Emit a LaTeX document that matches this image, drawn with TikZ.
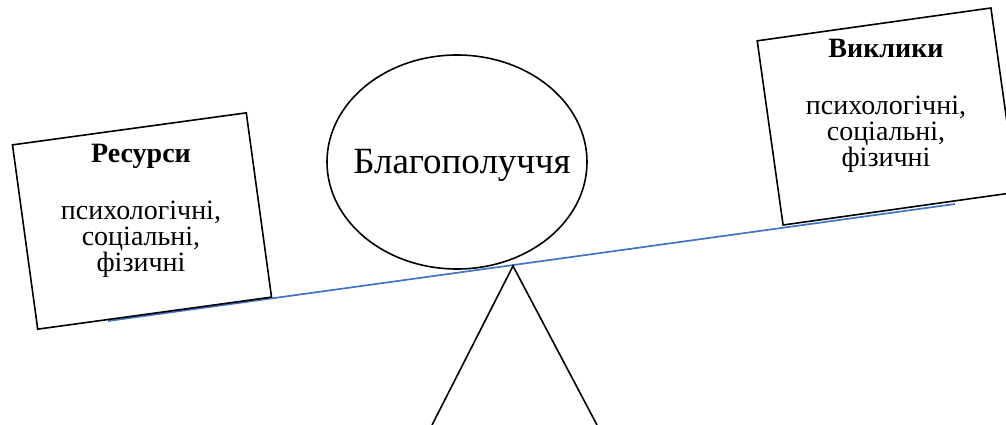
\documentclass[tikz,border=0pt]{standalone}
\usepackage{fontspec}
\setmainfont{Liberation Serif}
\usepackage{xcolor}
\usetikzlibrary{shapes.geometric}
\definecolor{beamblue}{HTML}{4472C4}
\begin{document}
\begin{tikzpicture}[x=1pt, y=-1pt, every node/.style={font=\fontsize{28}{26}\selectfont}, tiltbox/.style={draw, line width=1.6pt, fill=white, minimum width=236pt, minimum height=186pt, inner sep=0pt}, boxtext/.style={align=center, inner sep=0pt, anchor=north}, beam/.style={draw=beamblue, line width=1.7pt}, stand/.style={draw, line width=1.6pt}]
\clip (0,0) rectangle (1006,425);
% beam and stand
\coordinate (beamL) at (108,321);
\coordinate (beamR) at (955,204);
\coordinate (apex) at (513,266);
\coordinate (footL) at (432,425);
\coordinate (footR) at (597,425);
\draw[beam] (beamL) -- (beamR);
\draw[stand] (footL) -- (apex) -- (footR);
% boxes
\node[tiltbox, rotate=7.8] (resbox) at (142,221) {};
\node[tiltbox, rotate=8] (chalbox) at (887,116.5) {};
\node[boxtext] (restext) at (141,143.5) {\textbf{Ресурси}\\[31pt]психологічні,\\соціальні,\\фізичні};
\node[boxtext] (chaltext) at (886,38.5) {\textbf{Виклики}\\[31pt]психологічні,\\соціальні,\\фізичні};
% wellbeing
\node[draw, ellipse, line width=1.6pt, minimum width=260pt, minimum height=214pt] (wellbeing) at (457,162) {};
\node[anchor=base, inner sep=0pt, font=\fontsize{37}{40}\selectfont] (welltext) at (462,173) {Благополуччя};
\end{tikzpicture}
\end{document}
